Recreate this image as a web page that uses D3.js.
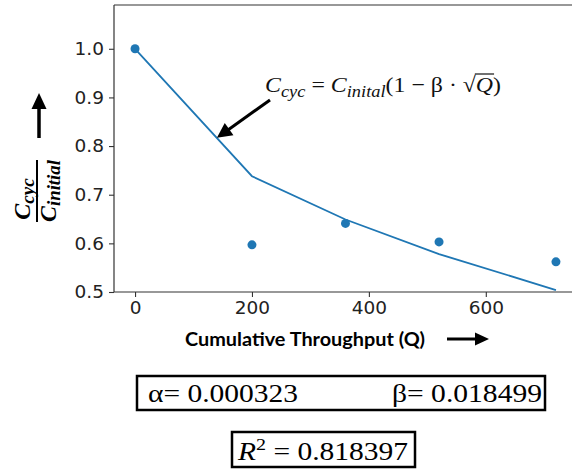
<!DOCTYPE html>
<html>
<head>
<meta charset="utf-8">
<script src="https://cdn.jsdelivr.net/npm/d3@7"></script>
<style>
  body{margin:0;background:#fff;}
  svg{display:block;}
</style>
</head>
<body>
<div id="chart"></div>
<script>
// measured capacity ratio vs throughput, plus the sqrt fit
var throughput=[0,200,360,520,720]
var measured=[1.0,0.597,0.641,0.603,0.562]
var fitted=[1.0,0.738,0.649,0.578,0.504]
var xTicks=[0,200,400,600]
var yTicks=[0.5,0.6,0.7,0.8,0.9,1.0]
var alphaText="α= 0.000323"
var betaText="β= 0.018499"
var r2Value="0.818397"

var screen={width:572,height:469}
var margin={top:5,left:114,bottom:177}

var svg=d3.select("#chart").append("svg")
    .attr("width",screen.width)
    .attr("height",screen.height)

var x=d3.scaleLinear().domain([-36,756]).range([margin.left,margin.left+463])
var y=d3.scaleLinear().domain([0.5,1.09]).range([screen.height-margin.bottom,margin.top])

var blue="#1f77b4"

// axes
var xAxis=svg.append("g")
    .attr("transform","translate(0,"+y(0.5)+")")
    .call(d3.axisBottom(x).tickValues(xTicks).tickSize(5).tickPadding(4).tickSizeOuter(0))
var yAxis=svg.append("g")
    .attr("transform","translate("+x(-36)+",0)")
    .call(d3.axisLeft(y).tickValues(yTicks).tickFormat(d3.format(".1f")).tickSize(5).tickPadding(5).tickSizeOuter(0))

;[xAxis,yAxis].forEach(function(g){
  g.attr("font-family",null).attr("font-size",null)
  g.selectAll("text").attr("fill","#222")
    .style("font-family","'DejaVu Sans', sans-serif").style("font-size","18.5px")
  g.selectAll("line").attr("stroke","#333").attr("stroke-width",1.1)
  g.select(".domain").remove()
})

// spines (right side runs off the image)
svg.append("line").attr("x1",x(-36)).attr("x2",screen.width+10).attr("y1",y(1.09)).attr("y2",y(1.09)).attr("stroke","#333").attr("stroke-width",1.2)
svg.append("line").attr("x1",x(-36)).attr("x2",screen.width+10).attr("y1",y(0.5)).attr("y2",y(0.5)).attr("stroke","#333").attr("stroke-width",1.2)
svg.append("line").attr("x1",x(-36)).attr("x2",x(-36)).attr("y1",y(1.09)).attr("y2",y(0.5)).attr("stroke","#333").attr("stroke-width",1.2)

// fit line
var line=d3.line()
    .x(function(d,i){return x(throughput[i])})
    .y(function(d){return y(d)})
svg.append("path")
    .datum(fitted)
    .attr("d",line)
    .attr("fill","none")
    .attr("stroke",blue)
    .attr("stroke-width",1.8)

// measured points
svg.append("g").selectAll("circle")
    .data(measured)
    .enter().append("circle")
    .attr("cx",function(d,i){return x(throughput[i])})
    .attr("cy",function(d){return y(d)})
    .attr("r",4.5)
    .attr("fill",blue)

// arrow helper
var drawArrow=function(x1,y1,x2,y2,headLen,headW,width){
  var ang=Math.atan2(y2-y1,x2-x1)
  var bx=x2-headLen*Math.cos(ang), by=y2-headLen*Math.sin(ang)
  var px=-Math.sin(ang)*headW/2, py=Math.cos(ang)*headW/2
  svg.append("line").attr("x1",x1).attr("y1",y1).attr("x2",bx+Math.cos(ang)).attr("y2",by+Math.sin(ang))
     .attr("stroke","#000").attr("stroke-width",width)
  svg.append("path")
     .attr("d","M"+x2+","+y2+"L"+(bx+px)+","+(by+py)+"L"+(bx-px)+","+(by-py)+"Z")
     .attr("fill","#000")
}

// annotation for fit
drawArrow(270,100,x(140),y(0.817),15,15,3)
var serif="'Liberation Serif', 'DejaVu Serif', serif"
var formula=svg.append("text")
    .attr("x",265).attr("y",92)
    .attr("textLength",236).attr("lengthAdjust","spacingAndGlyphs")
    .style("font-family",serif).style("font-size","22px").attr("fill","#111")
formula.append("tspan").style("font-style","italic").text("C")
formula.append("tspan").style("font-style","italic").style("font-size","17px").attr("dy",5).text("cyc")
formula.append("tspan").attr("dy",-5).text(" = ")
formula.append("tspan").style("font-style","italic").text("C")
formula.append("tspan").style("font-style","italic").style("font-size","17px").attr("dy",5).text("inital")
formula.append("tspan").attr("dy",-5).text("(1 − β · √")
formula.append("tspan").style("font-style","italic").text("Q")
formula.append("tspan").text(")")
// overline of the root
var fNode=formula.node()
var fullLen=fNode.textContent.length
var qStart=fNode.getStartPositionOfChar(fullLen-2).x
var qEnd=fNode.getEndPositionOfChar(fullLen-2).x
svg.append("line").attr("x1",qStart-1).attr("x2",qEnd+1).attr("y1",74).attr("y2",74).attr("stroke","#111").attr("stroke-width",1.2)

// y label: fraction, rotated
var ylab=svg.append("g").attr("transform","translate(37,191) rotate(-90)")
ylab.append("line").attr("x1",-31).attr("x2",31).attr("y1",0).attr("y2",0).attr("stroke","#000").attr("stroke-width",2)
var num=ylab.append("text").attr("x",-8).attr("y",-7).attr("text-anchor","middle")
    .style("font-family",serif).style("font-size","24px").style("font-weight","bold").style("font-style","italic")
num.append("tspan").text("C")
num.append("tspan").style("font-size","19px").attr("dy",4).text("cyc")
var den=ylab.append("text").attr("x",0).attr("y",19).attr("text-anchor","middle")
    .attr("textLength",62).attr("lengthAdjust","spacingAndGlyphs")
    .style("font-family",serif).style("font-size","24px").style("font-weight","bold").style("font-style","italic")
den.append("tspan").text("C")
den.append("tspan").style("font-size","19px").attr("dy",4).text("initial")
drawArrow(39,138,39,93,16,15,3.5)

// x label
svg.append("text")
    .attr("x",305).attr("y",346)
    .attr("text-anchor","middle")
    .style("font-family","Lato, 'Open Sans', sans-serif").style("font-weight","bold").style("font-size","18px")
    .attr("textLength",240).attr("lengthAdjust","spacingAndGlyphs")
    .text("Cumulative Throughput (Q)")
drawArrow(447,339,489,339,14,13,3)

// parameter boxes
svg.append("rect").attr("x",137).attr("y",376).attr("width",408).attr("height",34)
    .attr("fill","none").attr("stroke","#000").attr("stroke-width",2.5)
svg.append("text").attr("x",148).attr("y",402)
    .style("font-family",serif).style("font-size","26px")
    .attr("textLength",150).attr("lengthAdjust","spacingAndGlyphs")
    .text(alphaText)
svg.append("text").attr("x",392).attr("y",402)
    .style("font-family",serif).style("font-size","26px")
    .attr("textLength",150).attr("lengthAdjust","spacingAndGlyphs")
    .text(betaText)

svg.append("rect").attr("x",232).attr("y",432).attr("width",183).attr("height",35)
    .attr("fill","none").attr("stroke","#000").attr("stroke-width",2.5)
var r2=svg.append("text").attr("x",238).attr("y",460)
    .attr("textLength",170).attr("lengthAdjust","spacingAndGlyphs")
    .style("font-family",serif).style("font-size","25px")
r2.append("tspan").style("font-style","italic").text("R")
r2.append("tspan").style("font-size","17px").attr("dy",-10).text("2")
r2.append("tspan").attr("dy",10).text(" = "+r2Value)
</script>
</body>
</html>
